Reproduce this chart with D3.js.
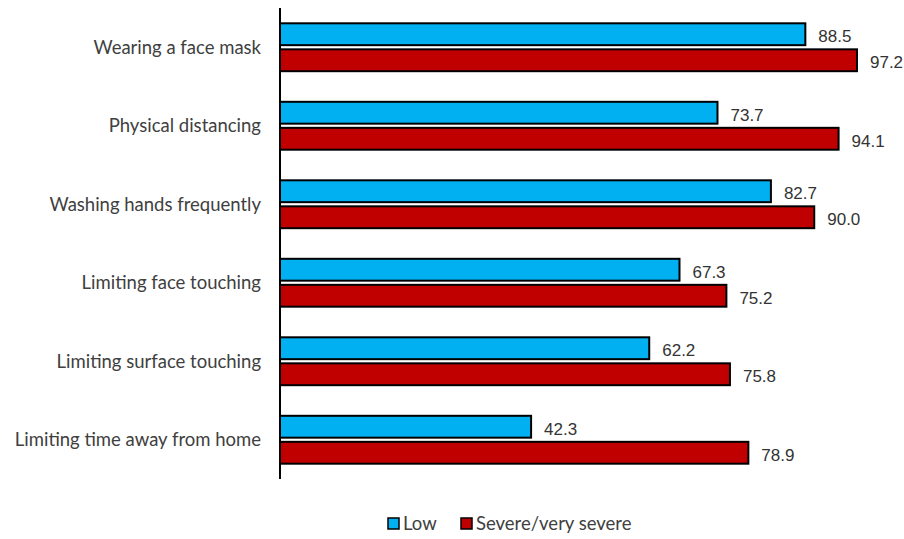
<!DOCTYPE html>
<html>
<head>
<meta charset="utf-8">
<style>
    body{ margin:0; background:#fff; }
    .cat{ font-family:"Lato","Noto Sans",sans-serif; font-size:18.5px; fill:#404040; }
    .val{ font-family:"Liberation Sans","Arial",sans-serif; font-size:17px; fill:#333; }
    .leg{ font-family:"Lato","Noto Sans",sans-serif; font-size:18.5px; fill:#404040; }
</style>
</head>
<body>
<script src="https://cdn.jsdelivr.net/npm/d3@7"></script>
<script>
var categories = ["Wearing a face mask","Physical distancing","Washing hands frequently",
                  "Limiting face touching","Limiting surface touching","Limiting time away from home"];
var seriesNames = ["Low","Severe/very severe"];
var lowValues = [88.5, 73.7, 82.7, 67.3, 62.2, 42.3];
var severeValues = [97.2, 94.1, 90.0, 75.2, 75.8, 78.9];
var colors = ["#00B0F0","#C00000"];

var width = 904, height = 539;
var svg = d3.select("body").append("svg")
            .attr("width", width)
            .attr("height", height);

var x = d3.scaleLinear().domain([0,100]).range([280, 873.6]);
var y = d3.scaleBand().domain(categories).range([8, 479]).paddingInner(0.39).paddingOuter(0.195);
var inner = d3.scaleBand().domain(seriesNames).range([0, y.bandwidth()]).paddingInner(0.16);

var rows = categories.map(function(c,i){
    return {cat:c, vals:[{s:seriesNames[0], v:lowValues[i]},{s:seriesNames[1], v:severeValues[i]}]};
});

var g = svg.selectAll("g.row").data(rows).enter().append("g")
           .attr("class","row")
           .attr("transform", function(d){ return "translate(0," + y(d.cat) + ")"; });

g.selectAll("rect").data(function(d){ return d.vals; }).enter().append("rect")
    .attr("x", x(0))
    .attr("y", function(d){ return inner(d.s); })
    .attr("width", function(d){ return x(d.v) - x(0); })
    .attr("height", inner.bandwidth())
    .attr("fill", function(d,i){ return colors[i]; })
    .attr("stroke", "#000")
    .attr("stroke-width", 2);

g.selectAll("text.val").data(function(d){ return d.vals; }).enter().append("text")
    .attr("class","val")
    .attr("x", function(d){ return x(d.v) + 13; })
    .attr("y", function(d){ return inner(d.s) + inner.bandwidth()/2 + 2; })
    .attr("dy", "0.35em")
    .text(function(d){ return d.v.toFixed(1); });

// category labels via axis
var yAxis = svg.append("g")
    .attr("transform", "translate(" + x(0) + ",0)")
    .call(d3.axisLeft(d3.scalePoint().domain(categories)
        .range([y(categories[0]) + y.bandwidth()/2, y(categories[5]) + y.bandwidth()/2]))
        .tickSize(0).tickPadding(19));
yAxis.select(".domain").remove();
yAxis.selectAll("text").attr("class","cat").attr("font-family", null).attr("font-size", null).attr("fill", null);

svg.append("line")
    .attr("x1", x(0)).attr("x2", x(0))
    .attr("y1", 8).attr("y2", 479)
    .attr("stroke", "#000").attr("stroke-width", 2);

// legend
var legX = [388, 461];
var leg = svg.selectAll("g.leg").data(seriesNames).enter().append("g")
    .attr("transform", function(d,i){ return "translate(" + legX[i] + ",518)"; });
leg.append("rect")
    .attr("width", 11).attr("height", 11)
    .attr("fill", function(d,i){ return colors[i]; })
    .attr("stroke", "#000").attr("stroke-width", 1.5);
leg.append("text")
    .attr("class","leg")
    .attr("x", 15).attr("y", 5.5).attr("dy","0.35em")
    .text(function(d){ return d; });
</script>
</body>
</html>
